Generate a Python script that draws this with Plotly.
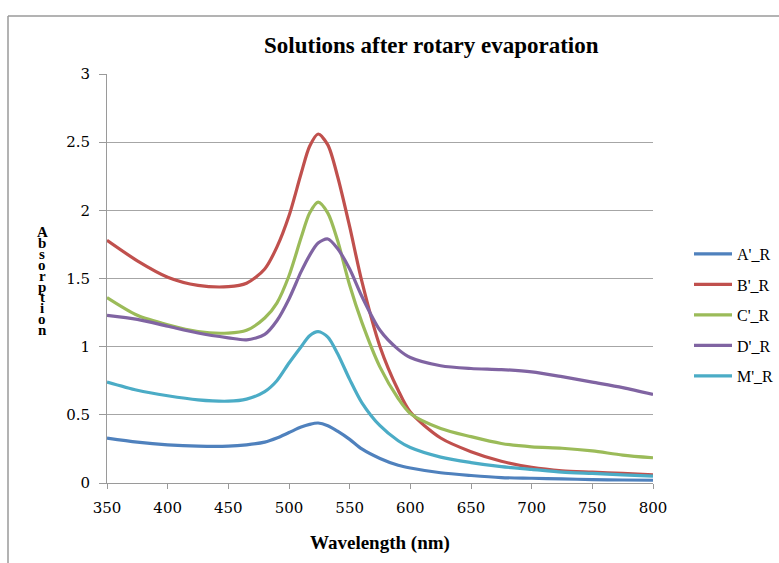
import plotly.graph_objects as go

wavelength = [350, 375, 400, 425, 450, 465, 480, 490, 500, 510, 517, 524, 532, 540,
              550, 560, 575, 590, 600, 625, 650, 675, 700, 725, 750, 775, 800]

a_r = [0.33, 0.30, 0.28, 0.27, 0.27, 0.28, 0.30, 0.33, 0.37, 0.41, 0.43, 0.44, 0.42, 0.38,
       0.32, 0.25, 0.18, 0.13, 0.11, 0.075, 0.055, 0.04, 0.035, 0.03, 0.025, 0.022, 0.02]
b_r = [1.78, 1.63, 1.51, 1.45, 1.44, 1.465, 1.57, 1.73, 1.96, 2.27, 2.47, 2.56, 2.48, 2.25,
       1.88, 1.48, 1.00, 0.68, 0.52, 0.33, 0.23, 0.16, 0.115, 0.09, 0.08, 0.07, 0.06]
c_r = [1.36, 1.23, 1.16, 1.11, 1.10, 1.12, 1.21, 1.32, 1.52, 1.80, 1.98, 2.06, 1.98, 1.78,
       1.45, 1.18, 0.85, 0.62, 0.51, 0.40, 0.34, 0.29, 0.265, 0.255, 0.235, 0.205, 0.185]
d_r = [1.23, 1.20, 1.15, 1.10, 1.065, 1.05, 1.09, 1.19, 1.35, 1.55, 1.67, 1.76, 1.79, 1.72,
       1.57, 1.37, 1.12, 0.98, 0.92, 0.86, 0.84, 0.832, 0.815, 0.78, 0.74, 0.70, 0.65]
m_r = [0.74, 0.68, 0.64, 0.61, 0.60, 0.615, 0.67, 0.75, 0.88, 1.00, 1.08, 1.11, 1.07, 0.95,
       0.76, 0.59, 0.42, 0.31, 0.26, 0.19, 0.15, 0.12, 0.10, 0.08, 0.07, 0.06, 0.05]

series_names = ["A'_R", "B'_R", "C'_R", "D'_R", "M'_R"]
series_values = [a_r, b_r, c_r, d_r, m_r]
colors = ["#4F81BD", "#C0504D", "#9BBB59", "#8064A2", "#4BACC6"]

x_ticks = [350, 400, 450, 500, 550, 600, 650, 700, 750, 800]
y_ticks = [0, 0.5, 1, 1.5, 2, 2.5, 3]
y_tick_labels = ["0", "0.5", "1", "1.5", "2", "2.5", "3"]

title_text = "Solutions after rotary evaporation"
x_title = "Wavelength (nm)"
y_title = "Absorption"

SERIF = "Liberation Serif, DejaVu Serif, serif"
TICKFONT = "DejaVu Serif, serif"

fig = go.Figure()
for name, vals, col in zip(series_names, series_values, colors):
    fig.add_trace(go.Scatter(x=wavelength, y=vals, name=name, mode="lines",
                             line=dict(color=col, width=3.2, shape="spline", smoothing=0.8),
                             legendgroup=name))

W, H = 779, 563
L, R, T, B = 107, 126, 74, 80
pw, ph = W - L - R, H - T - B

def px_to_paper_x(px):
    return (px - L) / pw

def px_to_paper_y(py):
    return (H - B - py) / ph

annotations = [
    dict(text="<b>" + title_text + "</b>", x=px_to_paper_x(431), y=px_to_paper_y(45),
         xref="paper", yref="paper", showarrow=False, xanchor="center", yanchor="middle",
         font=dict(family=SERIF, size=23, color="#000")),
    dict(text="<b>" + x_title + "</b>", x=px_to_paper_x(380), y=px_to_paper_y(543),
         xref="paper", yref="paper", showarrow=False, xanchor="center", yanchor="middle",
         font=dict(family=SERIF, size=19, color="#000")),
]
for i, ch in enumerate(y_title):
    annotations.append(dict(text="<b>" + ch + "</b>", x=px_to_paper_x(42),
                            y=px_to_paper_y(232 + i * 10.9), xref="paper", yref="paper",
                            showarrow=False, xanchor="center", yanchor="middle",
                            font=dict(family=SERIF, size=15, color="#000")))

fig.update_layout(
    width=W, height=H,
    margin=dict(l=L, r=R, t=T, b=B, autoexpand=False),
    paper_bgcolor="white", plot_bgcolor="white",
    font=dict(family=SERIF, size=16, color="#000"),
    showlegend=True,
    legend=dict(x=px_to_paper_x(689), y=px_to_paper_y(237), xanchor="left", yanchor="top",
                font=dict(family=SERIF, size=16, color="#000"), tracegroupgap=6.7,
                itemwidth=38, bgcolor="rgba(0,0,0,0)"),
    annotations=annotations,
    shapes=[
        dict(type="line", xref="paper", yref="paper", x0=px_to_paper_x(8), x1=px_to_paper_x(800),
             y0=px_to_paper_y(16), y1=px_to_paper_y(16), line=dict(color="#9a9a9a", width=1.5)),
        dict(type="line", xref="paper", yref="paper", x0=px_to_paper_x(8), x1=px_to_paper_x(8),
             y0=px_to_paper_y(16), y1=px_to_paper_y(580), line=dict(color="#9a9a9a", width=1.5)),
    ],
)
fig.update_xaxes(range=[350, 800], tickvals=x_ticks, ticks="outside", ticklen=5,
                 tickcolor="#9a9a9a", showline=True, linecolor="#9a9a9a", linewidth=1,
                 showgrid=False, zeroline=False, ticklabelstandoff=6,
                 tickfont=dict(family=TICKFONT, size=15))
fig.update_yaxes(range=[0, 3], tickvals=y_ticks, ticktext=y_tick_labels, ticks="outside",
                 ticklen=7, tickcolor="#9a9a9a", showline=True, linecolor="#9a9a9a",
                 linewidth=1, showgrid=True, gridcolor="#a6a6a6", gridwidth=1,
                 zeroline=False, ticklabelstandoff=6,
                 tickfont=dict(family=TICKFONT, size=15))

fig.write_html("out.html")
